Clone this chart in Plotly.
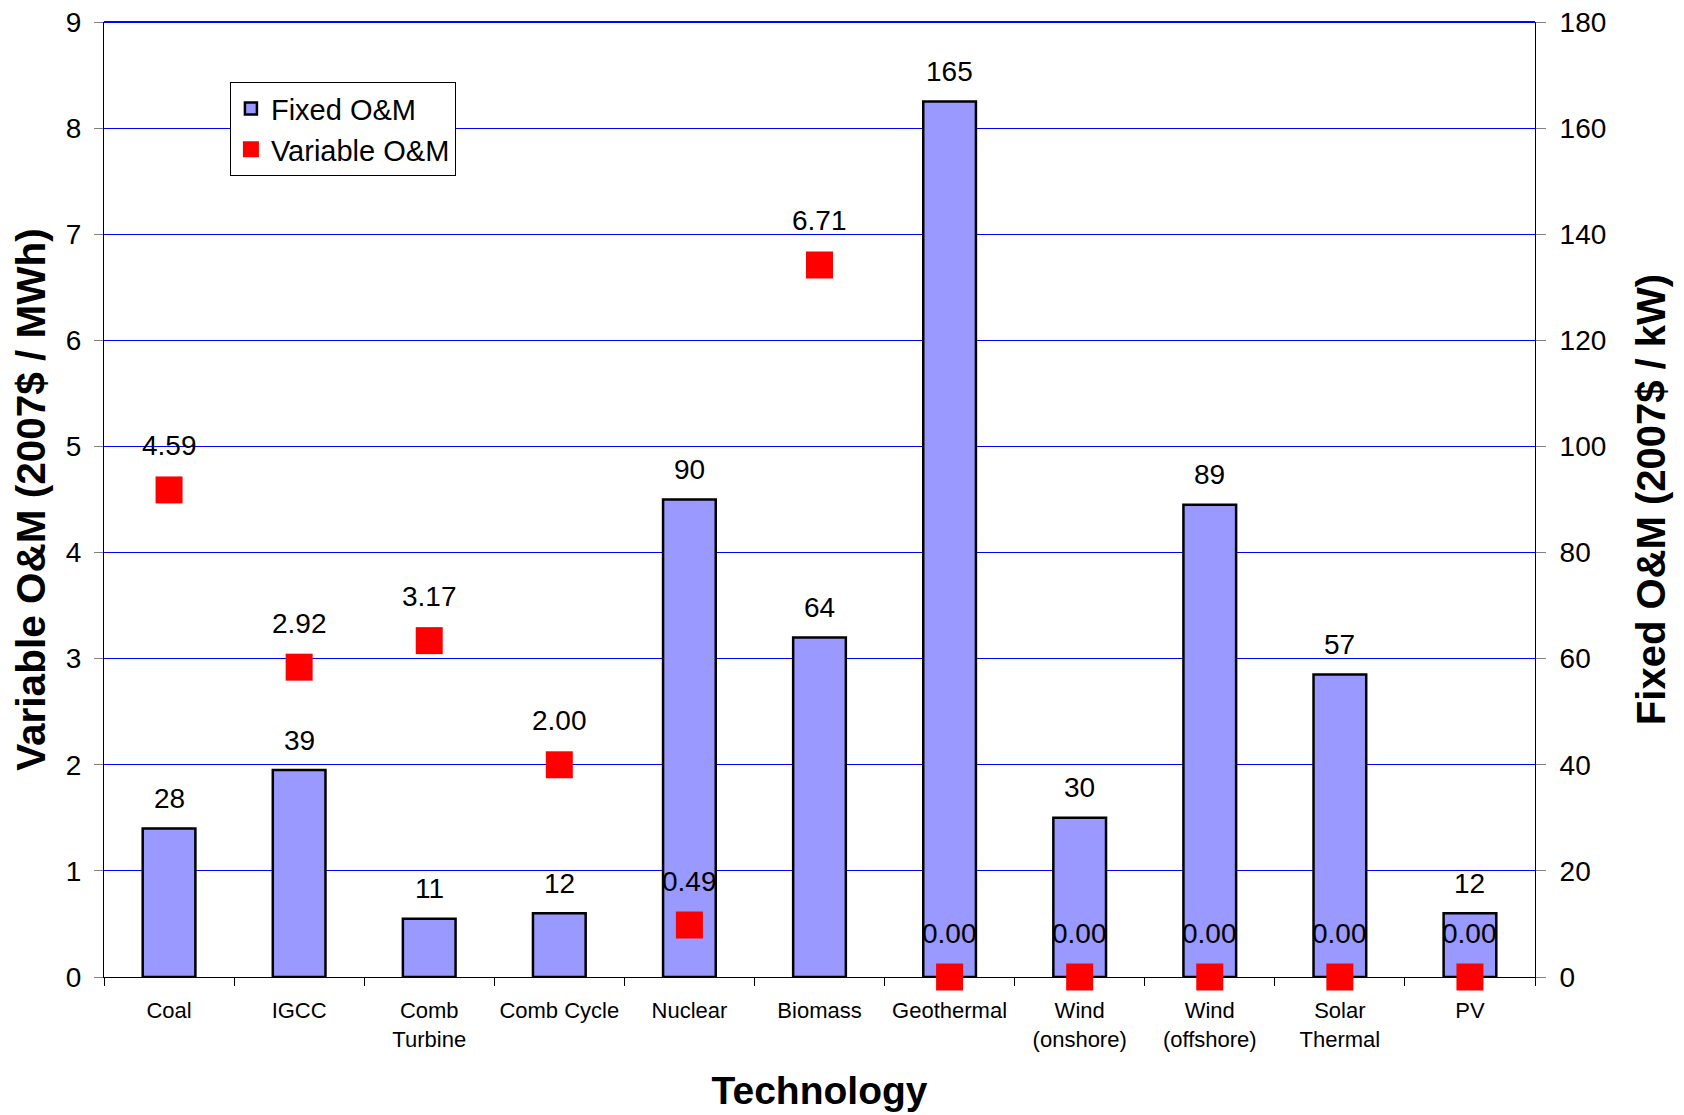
import plotly.graph_objects as go

categories = ["Coal", "IGCC", "Comb<br>Turbine", "Comb Cycle", "Nuclear", "Biomass",
              "Geothermal", "Wind<br>(onshore)", "Wind<br>(offshore)", "Solar<br>Thermal", "PV"]
fixed_om = [28, 39, 11, 12, 90, 64, 165, 30, 89, 57, 12]
variable_om = [4.59, 2.92, 3.17, 2.00, 0.49, 6.71, 0.00, 0.00, 0.00, 0.00, 0.00]
fixed_labels = [str(v) for v in fixed_om]
variable_labels = [f"{v:.2f}" for v in variable_om]

FONT = "Liberation Sans"

fig = go.Figure()
fig.add_trace(go.Bar(
    x=categories, y=fixed_om, name="Fixed O&M", yaxis="y",
    marker=dict(color="#9999FF", line=dict(color="black", width=2.5)),
))
fig.add_trace(go.Scatter(
    x=categories, y=variable_om, name="Variable O&M", yaxis="y2",
    mode="markers", cliponaxis=False,
    marker=dict(symbol="square", size=27, color="#FF0000", line=dict(width=0)),
))

annotations = []
for c, v, t in zip(categories, fixed_om, fixed_labels):
    annotations.append(dict(x=c, y=v, xref="x", yref="y", text=t, showarrow=False,
                            yanchor="middle", yshift=30,
                            font=dict(family=FONT, size=28, color="black")))
for c, v, t in zip(categories, variable_om, variable_labels):
    annotations.append(dict(x=c, y=v, xref="x", yref="y2", text=t, showarrow=False,
                            yanchor="middle", yshift=44,
                            font=dict(family=FONT, size=28, color="black")))

fig.update_layout(
    width=1684, height=1115,
    margin=dict(l=96, r=157, t=14, b=146, autoexpand=False),
    paper_bgcolor="white", plot_bgcolor="white",
    font=dict(family=FONT, color="black", size=28),
    bargap=0.595,
    showlegend=True,
    legend=dict(x=0.088, y=0.937, xanchor="left", yanchor="top",
                bgcolor="white", bordercolor="black", borderwidth=1,
                font=dict(family=FONT, size=29), tracegroupgap=0,
                itemsizing="trace"),
    xaxis=dict(type="category", range=[-0.5, 10.5], showline=True, linecolor="black",
               linewidth=1, ticks="outside", tickson="boundaries", ticklen=8,
               tickcolor="black", tickwidth=1, showgrid=False, layer="below traces",
               ticklabelstandoff=14,
               tickfont=dict(family=FONT, size=22),
               title=dict(text="Technology", standoff=25,
                          font=dict(family=FONT, size=39, weight="bold"))),
    yaxis=dict(side="right", range=[0, 180], tick0=0, dtick=20, showgrid=True,
               gridcolor="#0000FF", gridwidth=1, zeroline=False, showline=True,
               linecolor="black", linewidth=1, ticklabeloverflow="allow",
               ticks="outside", ticklen=10, tickcolor="#808080", ticklabelstandoff=8,
               tickfont=dict(family=FONT, size=28),
               title=dict(text="Fixed O&M (2007$ / kW)", standoff=31,
                          font=dict(family=FONT, size=40, weight="bold"))),
    yaxis2=dict(side="left", overlaying="y", range=[0, 9], tick0=0, dtick=1,
                showgrid=False, zeroline=False, showline=True, linecolor="black",
                linewidth=1, ticks="outside", ticklen=9, tickcolor="#808080",
                ticklabelstandoff=7, ticklabeloverflow="allow",
                tickfont=dict(family=FONT, size=28),
                title=dict(text="Variable O&M (2007$ / MWh)", standoff=12,
                           font=dict(family=FONT, size=40.5, weight="bold"))),
    shapes=[dict(type="line", xref="paper", yref="paper", x0=0, x1=1, y0=1, y1=1,
                 line=dict(color="#0000FF", width=2), layer="below")],
    annotations=annotations,
)

fig.write_html("out.html")
